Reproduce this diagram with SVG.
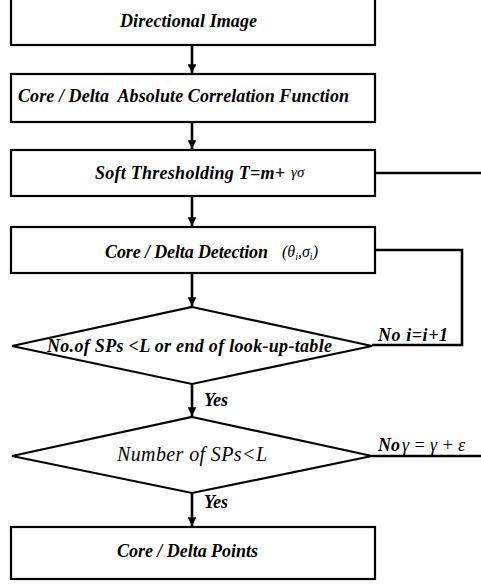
<svg xmlns="http://www.w3.org/2000/svg" width="481" height="585" viewBox="0 0 481 585">
<style>
.box{fill:#fff;stroke:#000;stroke-width:2.2}
.t{font-family:"Liberation Serif","Times New Roman",serif;font-weight:bold;font-style:italic;font-size:18px;fill:#000}
.r{font-family:"Liberation Serif","Times New Roman",serif;font-weight:normal;font-style:italic;fill:#000}
.ln{fill:none;stroke:#000;stroke-width:2.6}
</style>
<defs>
<marker id="ah" viewBox="0 0 10 10" refX="10" refY="5" markerWidth="3.4" markerHeight="3.4" orient="auto" markerUnits="strokeWidth">
<path d="M0,0 L10,5 L0,10 z" fill="#000"/>
</marker>
</defs>
<rect width="481" height="585" fill="#fff"/>
<g id="n1"><rect class="box" x="11" y="-2" width="364" height="47"/><text class="t" x="120" y="27" textLength="137" lengthAdjust="spacing">Directional Image</text></g>
<g id="n2"><rect class="box" x="11" y="74" width="364" height="48"/><text class="t" x="18" y="102" textLength="331" lengthAdjust="spacing" xml:space="preserve">Core / Delta  Absolute Correlation Function</text></g>
<g id="n3"><rect class="box" x="11" y="150" width="364" height="46"/><text class="t" x="95" y="179" textLength="190" lengthAdjust="spacing">Soft Thresholding T=m+</text><text class="r" x="291" y="177" font-size="15">γσ</text></g>
<g id="n4"><rect class="box" x="11" y="227" width="364" height="46"/><text class="t" x="105" y="258" textLength="163" lengthAdjust="spacing">Core / Delta Detection</text><text class="r" x="282" y="257" font-size="16">(θ<tspan font-size="10" dy="3">i</tspan><tspan dy="-3">,σ</tspan><tspan font-size="10" dy="3">i</tspan><tspan dy="-3">)</tspan></text></g>
<g id="d1"><polygon class="box" points="192,307 372,346 192,384 12,346"/><text class="t" x="47" y="352" textLength="285" lengthAdjust="spacing">No.of SPs &lt;L or end of look-up-table</text></g>
<g id="d2"><polygon class="box" points="192,417 372,456 192,493 12,456"/><text class="r" x="117" y="461" font-size="20" textLength="150" lengthAdjust="spacing">Number of SPs&lt;L</text></g>
<g id="n5"><rect class="box" x="11" y="527" width="364" height="52"/><text class="t" x="117" y="557" textLength="141" lengthAdjust="spacing">Core / Delta Points</text></g>
<g id="connectors">
<line class="ln" x1="192" y1="45" x2="192" y2="73" marker-end="url(#ah)"/>
<line class="ln" x1="192" y1="122" x2="192" y2="149" marker-end="url(#ah)"/>
<line class="ln" x1="192" y1="196" x2="192" y2="226" marker-end="url(#ah)"/>
<line class="ln" x1="192" y1="273" x2="192" y2="306" marker-end="url(#ah)"/>
<line class="ln" x1="192" y1="384" x2="192" y2="416" marker-end="url(#ah)"/>
<line class="ln" x1="192" y1="493" x2="192" y2="526" marker-end="url(#ah)"/>
<line class="ln" x1="375" y1="173" x2="481" y2="173"/>
<polyline class="ln" points="375,250 462,250 462,345 372,345"/>
<line class="ln" x1="372" y1="456" x2="481" y2="456"/>
<text class="t" x="378" y="341" textLength="70" lengthAdjust="spacing">No i=i+1</text>
<text class="t" x="378" y="451">No</text><text class="r" x="402" y="451" font-size="18" textLength="63" lengthAdjust="spacing">γ = γ + ε</text>
<text class="t" x="204" y="406">Yes</text>
<text class="t" x="204" y="508">Yes</text>
</g>
</svg>
